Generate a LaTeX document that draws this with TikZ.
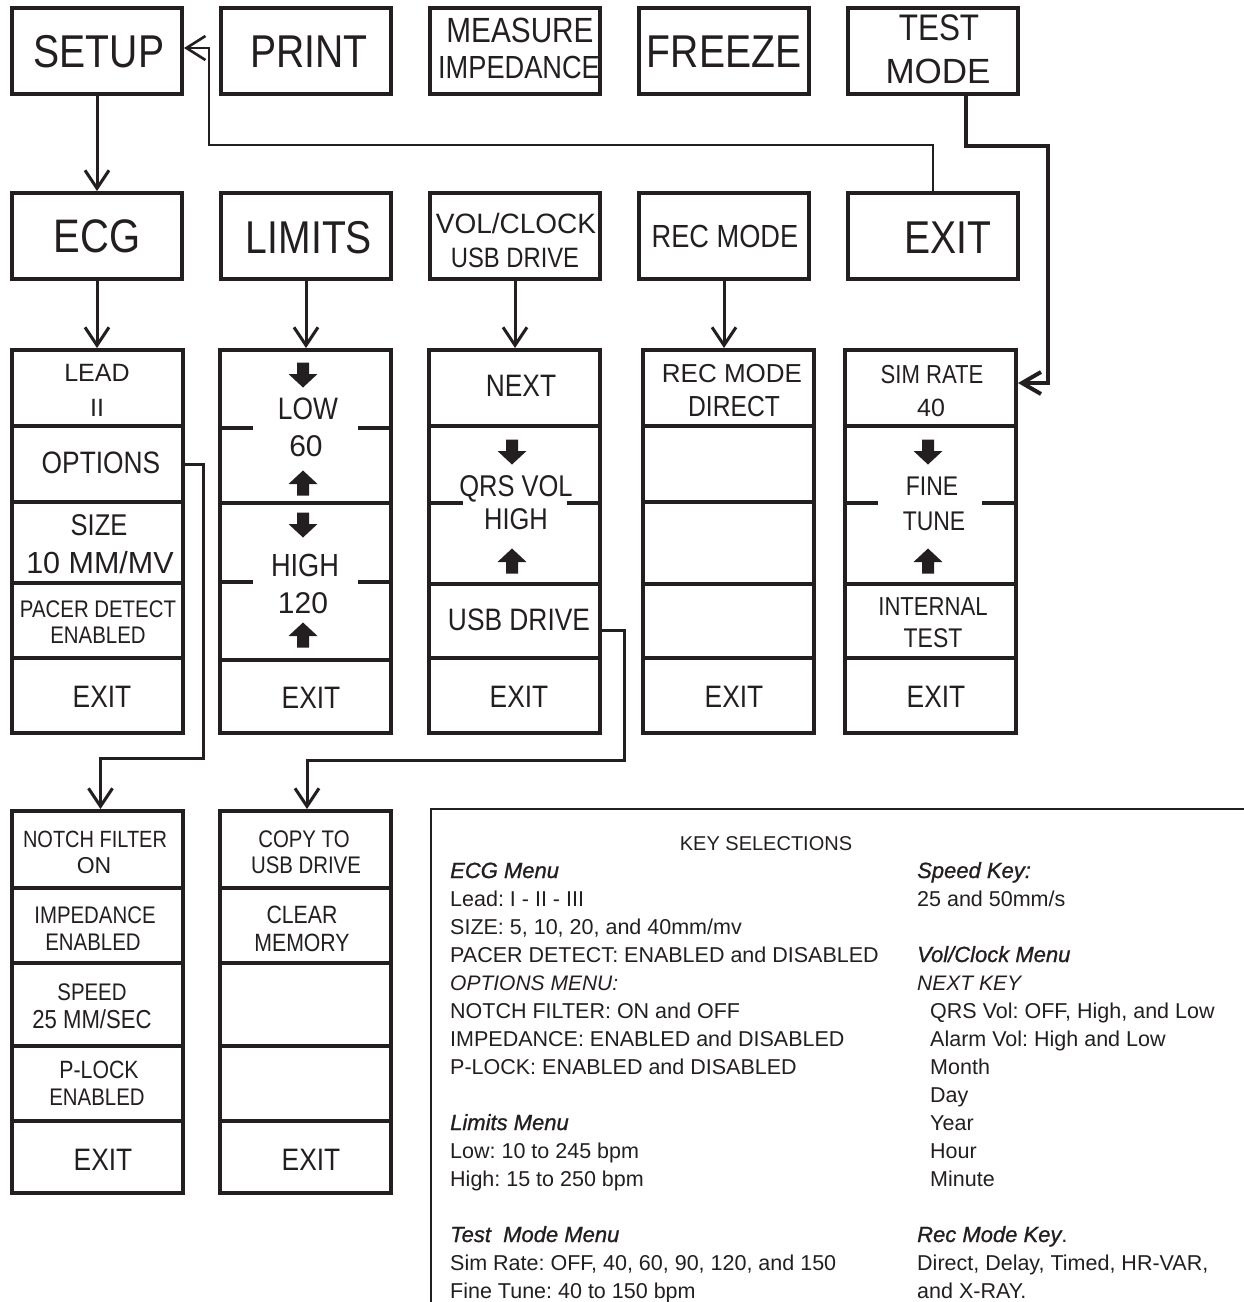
\documentclass[tikz,border=0pt]{standalone}
\usepackage{fontspec}
\setmainfont{Liberation Sans}
\newfontfamily\cf{Liberation Sans}[FakeStretch=0.85]
\newfontfamily\hf{Liberation Sans}[FakeBold=1]
\usetikzlibrary{arrows.meta}
\definecolor{ink}{RGB}{35,31,32}
\frenchspacing
\begin{document}
\begin{tikzpicture}[x=1pt,y=-1pt,color=ink]
\tikzset{
 box/.style={draw, line width=4pt, inner sep=0pt, minimum width=170pt, minimum height=86pt},
 colbox/.style={draw, line width=4pt, inner sep=0pt, minimum width=171pt, minimum height=#1},
 cell/.style={inner sep=0pt, minimum width=171pt, minimum height=#1, outer sep=2pt},
 div/.style={line width=3.6pt},
 lab/.style={font=\fontsize{#1}{#1}\selectfont\cf, inner sep=0pt, anchor=base},
 labn/.style={font=\fontsize{#1}{#1}\selectfont, inner sep=0pt, anchor=base},
 kt/.style={font=\fontsize{21.5}{22}\selectfont, inner sep=0pt, anchor=base west},
 kh/.style={font=\fontsize{22}{22}\selectfont\hf\itshape, inner sep=0pt, anchor=base west},
 ki/.style={font=\fontsize{21}{22}\selectfont\itshape, inner sep=0pt, anchor=base west},
 conn/.style={line width=3pt, -{Straight Barb[length=18pt,width=24pt]}},
 dnarrow/.pic={\fill (-6,-12.5) -- (6,-12.5) -- (6,-1) -- (14.5,-1) -- (0,12.5) -- (-14.5,-1) -- (-6,-1) -- cycle;},
 uparrow/.pic={\fill (-6,12.5) -- (6,12.5) -- (6,1) -- (14.5,1) -- (0,-12.5) -- (-14.5,1) -- (-6,1) -- cycle;},
}
\fill[white] (0,0) rectangle (1244,1302);
\useasboundingbox (0,0) rectangle (1244,1302);

% top row
\node[box] (setup) at (97,51) {};
\node[box] (print) at (306,51) {};
\node[box] (meas) at (515,51) {};
\node[box] (freeze) at (724,51) {};
\node[box] (test) at (933,51) {};
% second row
\node[box] (ecg) at (97,236) {};
\node[box] (limits) at (306,236) {};
\node[box] (vol) at (515,236) {};
\node[box] (rec) at (724,236) {};
\node[box] (exit) at (933,236) {};

\node[lab=46] (tsetup) at (99,67) {SETUP};
\node[lab=46] (tprint) at (309,67) {PRINT};
\node[lab=35] (tmeas) at (520,42) {MEASURE};
\node[lab=32] (timp) at (519,78) {IMPEDANCE};
\node[lab=46] (tfreeze) at (724,67) {FREEZE};
\node[lab=37] (ttest) at (939,40) {TEST};
\node[labn=35] (tmode) at (938,83) {MODE};
\node[lab=47] (tecg) at (97,252) {ECG};
\node[lab=46] (tlimits) at (309,253) {LIMITS};
\node[labn=28] (tvol) at (516,233) {VOL/CLOCK};
\node[lab=28] (tusb) at (515,267) {USB DRIVE};
\node[lab=32] (trec) at (725,247) {REC MODE};
\node[lab=46] (texit) at (948,253) {EXIT};

% columns
\node[colbox=383pt] (c1) at (97.5,541.5) {};
\node[colbox=383pt] (c2) at (305.5,541.5) {};
\node[colbox=383pt] (c3) at (514,541.5) {};
\node[colbox=383pt] (c4) at (728,541.5) {};
\node[colbox=383pt] (c5) at (930.5,541.5) {};
\node[colbox=382pt] (ca) at (97.5,1002) {};
\node[colbox=382pt] (cb) at (305.5,1002) {};

\node[cell=76pt] (optcell) at (97.5,464) {};
\node[cell=74pt] (usbcell) at (514,621) {};
\node[cell=76pt] (simcell) at (930.5,388) {};

% dividers
\draw[div] (12,426) -- (183,426) (12,502) -- (183,502) (12,583) -- (183,583) (12,658) -- (183,658);
\draw[div] (220,428) -- (253,428) (358,428) -- (391,428) (220,503) -- (391,503)
           (220,582) -- (253,582) (358,582) -- (391,582) (220,660) -- (391,660);
\draw[div] (428,426) -- (600,426) (428,503) -- (463,503) (567,503) -- (600,503) (428,584) -- (600,584) (428,658) -- (600,658);
\draw[div] (642,426) -- (814,426) (642,502) -- (814,502) (642,584) -- (814,584) (642,658) -- (814,658);
\draw[div] (845,426) -- (1016,426) (845,503) -- (878,503) (982,503) -- (1016,503) (845,584) -- (1016,584) (845,658) -- (1016,658);
\draw[div] (12,888) -- (183,888) (12,963) -- (183,963) (12,1046) -- (183,1046) (12,1121) -- (183,1121);
\draw[div] (220,888) -- (391,888) (220,963) -- (391,963) (220,1046) -- (391,1046) (220,1121) -- (391,1121);

% column 1
\node[labn=25] (l1) at (97,381) {LEAD};
\node[labn=25] (l2) at (97,416) {II};
\node[lab=31] (l3) at (101,473) {OPTIONS};
\node[lab=30] (l4) at (99,535) {SIZE};
\node[labn=30.5] (l5) at (100,573) {10 MM/MV};
\node[lab=24] (l6) at (98,617) {PACER DETECT};
\node[lab=24] (l7) at (98,643) {ENABLED};
\node[lab=31] (l8) at (102,707) {EXIT};
% column 2
\pic at (303,375) {dnarrow};
\node[lab=31] (m1) at (308,419) {LOW};
\node[labn=30] (m2) at (306,456) {60};
\pic at (303,483) {uparrow};
\pic at (303,525) {dnarrow};
\node[lab=32] (m3) at (305,576) {HIGH};
\node[labn=30] (m4) at (303,613) {120};
\pic at (303,635) {uparrow};
\node[lab=31] (m5) at (311,708) {EXIT};
% column 3
\node[lab=31] (n1) at (521,396) {NEXT};
\pic at (512,452) {dnarrow};
\node[lab=30] (n2) at (516,496) {QRS VOL};
\node[lab=30] (n3) at (516,529) {HIGH};
\pic at (512,561) {uparrow};
\node[lab=31] (n4) at (519,630) {USB DRIVE};
\node[lab=31] (n5) at (519,707) {EXIT};
% column 4
\node[labn=26] (r1) at (732,382) {REC MODE};
\node[lab=29] (r2) at (734,416) {DIRECT};
\node[lab=31] (r3) at (734,707) {EXIT};
% column 5
\node[lab=26] (s1) at (932,383) {SIM RATE};
\node[labn=25] (s2) at (931,416) {40};
\pic at (928,452) {dnarrow};
\node[lab=27] (s3) at (932,495) {FINE};
\node[lab=27] (s4) at (934,530) {TUNE};
\pic at (928,561) {uparrow};
\node[lab=26] (s5) at (933,615) {INTERNAL};
\node[lab=27] (s6) at (933,647) {TEST};
\node[lab=31] (s7) at (936,707) {EXIT};
% bottom A
\node[lab=23.5] (a1) at (95,847) {NOTCH FILTER};
\node[labn=23] (a2) at (94,873) {ON};
\node[lab=24] (a3) at (95,923) {IMPEDANCE};
\node[lab=24] (a4) at (93,950) {ENABLED};
\node[lab=24] (a5) at (92,1000) {SPEED};
\node[lab=26] (a6) at (92,1028) {25 MM/SEC};
\node[lab=25] (a7) at (99,1078) {P-LOCK};
\node[lab=24] (a8) at (97,1105) {ENABLED};
\node[lab=31] (a9) at (103,1170) {EXIT};
% bottom B
\node[lab=24] (b1) at (304,847) {COPY TO};
\node[lab=24] (b2) at (306,873) {USB DRIVE};
\node[lab=25] (b3) at (302,923) {CLEAR};
\node[lab=25] (b4) at (302,951) {MEMORY};
\node[lab=31] (b5) at (311,1170) {EXIT};

% connectors
\coordinate (k1) at (209,145);
\coordinate (k2) at (1048,146);
\coordinate (k3) at (203,758);
\coordinate (k4) at (624,760);
\draw[conn] (setup.south) -- (ecg.north);
\draw[conn] (ecg.south) -- (ecg.south |- c1.north);
\draw[conn] (limits.south) -- (limits.south |- c2.north);
\draw[conn] (vol.south) -- (vol.south |- c3.north);
\draw[conn] (rec.south) -- (rec.south |- c4.north);
\draw[line width=2.6pt, -{Straight Barb[length=19pt,width=24pt]}] (exit.north) |- (k1) |- ([yshift=3pt]setup.east);
\draw[line width=4pt, -{Straight Barb[length=19pt,width=22pt]}] ([xshift=33pt]test.south) |- (k2) |- ([yshift=5pt]simcell.east);
\draw[conn] (optcell.east) -| (k3) -| ([xshift=3pt]ca.north);
\draw[conn] ([yshift=-9pt]usbcell.east) -| (k4) -| ([xshift=1.5pt]cb.north);

% key selections
\draw[line width=1.4pt] (431,1302) |- (1244,809);
\node[labn=20] (ks) at (766,850) {KEY SELECTIONS};
\node[kh] (e1) at (450,878) {ECG Menu};
\node[kt] (e2) at (450,906) {Lead: I - II - III};
\node[kt] (e3) at (450,934) {SIZE: 5, 10, 20, and 40mm/mv};
\node[kt] (e4) at (450,962) {PACER DETECT: ENABLED and DISABLED};
\node[ki] (e5) at (450,990) {OPTIONS MENU:};
\node[kt] (e6) at (450,1018) {NOTCH FILTER: ON and OFF};
\node[kt] (e7) at (450,1046) {IMPEDANCE: ENABLED and DISABLED};
\node[kt] (e8) at (450,1074) {P-LOCK: ENABLED and DISABLED};
\node[kh] (e9) at (450,1130) {Limits Menu};
\node[kt] (e10) at (450,1158) {Low: 10 to 245 bpm};
\node[kt] (e11) at (450,1186) {High: 15 to 250 bpm};
\node[kh] (e12) at (450,1242) {Test\ \ Mode Menu};
\node[kt] (e13) at (450,1270) {Sim Rate: OFF, 40, 60, 90, 120, and 150};
\node[kt] (e14) at (450,1298) {Fine Tune: 40 to 150 bpm};
\node[kh] (f1) at (917,878) {Speed Key:};
\node[kt] (f2) at (917,906) {25 and 50mm/s};
\node[kh] (f3) at (917,962) {Vol/Clock Menu};
\node[ki] (f4) at (917,990) {NEXT KEY};
\node[kt] (f5) at (930,1018) {QRS Vol: OFF, High, and Low};
\node[kt] (f6) at (930,1046) {Alarm Vol: High and Low};
\node[kt] (f7) at (930,1074) {Month};
\node[kt] (f8) at (930,1102) {Day};
\node[kt] (f9) at (930,1130) {Year};
\node[kt] (f10) at (930,1158) {Hour};
\node[kt] (f11) at (930,1186) {Minute};
\node[kh] (f12) at (917,1242) {Rec Mode Key\normalfont.};
\node[kt] (f13) at (917,1270) {Direct, Delay, Timed, HR-VAR,};
\node[kt] (f14) at (917,1298) {and X-RAY.};
\end{tikzpicture}
\end{document}
